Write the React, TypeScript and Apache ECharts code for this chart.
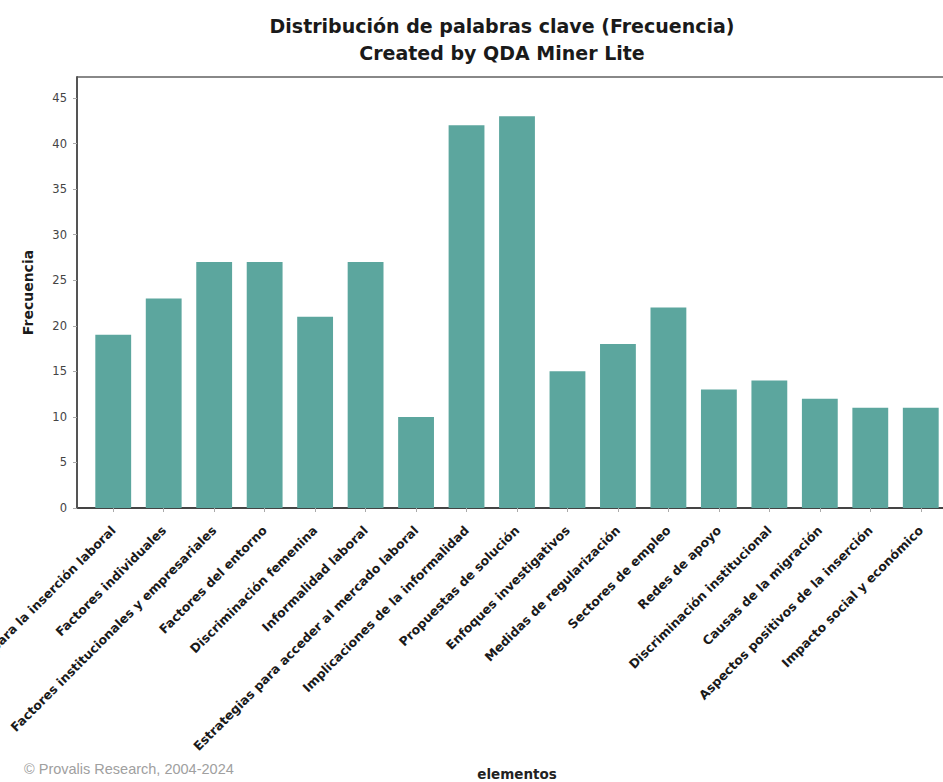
import React, { useEffect, useRef } from "react";
import * as echarts from "echarts";

const categories: string[] = [
  "Barreras para la inserción laboral",
  "Factores individuales",
  "Factores institucionales y empresariales",
  "Factores del entorno",
  "Discriminación femenina",
  "Informalidad laboral",
  "Estrategias para acceder al mercado laboral",
  "Implicaciones de la informalidad",
  "Propuestas de solución",
  "Enfoques investigativos",
  "Medidas de regularización",
  "Sectores de empleo",
  "Redes de apoyo",
  "Discriminación institucional",
  "Causas de la migración",
  "Aspectos positivos de la inserción",
  "Impacto social y económico",
];

const frecuencias: number[] = [19, 23, 27, 27, 21, 27, 10, 42, 43, 15, 18, 22, 13, 14, 12, 11, 11];

const yTicks: number[] = [0, 5, 10, 15, 20, 25, 30, 35, 40, 45];

const titleLines: string[] = [
  "Distribución de palabras clave (Frecuencia)",
  "Created by QDA Miner Lite",
];

const FONT = "DejaVu Sans";

export default function App() {
  const ref = useRef<HTMLDivElement>(null);

  useEffect(() => {
    if (!ref.current) return;
    const chart = echarts.init(ref.current, null, { renderer: "svg" });
    const option: any = {
      animation: false,
      backgroundColor: "#ffffff",
      title: {
        text: titleLines.join("\n"),
        left: 502,
        textAlign: "center",
        top: 12,
        padding: 0,
        textStyle: {
          fontFamily: FONT,
          fontWeight: "bold",
          fontSize: 19,
          lineHeight: 27,
          color: "#1a1a1a",
        },
      },
      grid: {
        left: 88,
        right: -3,
        top: 77,
        bottom: 274,
        containLabel: false,
        outerBoundsMode: "none",
      },
      xAxis: {
        type: "category",
        data: categories,
        name: "elementos",
        nameLocation: "middle",
        nameGap: 259,
        nameTextStyle: { fontFamily: FONT, fontWeight: "bold", fontSize: 13.5, color: "#222" },
        axisLine: { show: true, lineStyle: { color: "#444", width: 2 } },
        axisTick: { show: true, alignWithLabel: true, length: 4, lineStyle: { color: "#aaa" } },
        axisLabel: {
          rotate: 45,
          interval: 0,
          margin: 20,
          fontFamily: FONT,
          fontWeight: "bold",
          fontSize: 12.5,
          color: "#1a1a1a",
        },
      },
      yAxis: {
        type: "value",
        min: 0,
        max: 47.3,
        interval: 5,
        offset: 11,
        name: "Frecuencia",
        nameLocation: "middle",
        nameGap: 42,
        nameRotate: 90,
        nameTextStyle: { fontFamily: FONT, fontWeight: "bold", fontSize: 14, color: "#1a1a1a" },
        axisLine: { show: true, lineStyle: { color: "#555", width: 2 } },
        axisTick: { show: true, length: 4, lineStyle: { color: "#aaa" }, customValues: yTicks },
        axisLabel: {
          margin: 10,
          fontFamily: FONT,
          fontSize: 11.5,
          color: "#444",
          customValues: yTicks,
        },
        splitLine: { show: false },
      },
      series: [
        {
          type: "bar",
          data: frecuencias,
          barCategoryGap: "29%",
          itemStyle: { color: "#5ca69e" },
        },
      ],
      graphic: [
        {
          type: "line",
          shape: { x1: 77, y1: 77, x2: 943, y2: 77 },
          style: { stroke: "#888", lineWidth: 2 },
          silent: true,
        },
        {
          type: "line",
          shape: { x1: 77, y1: 508, x2: 89, y2: 508 },
          style: { stroke: "#444", lineWidth: 2 },
          silent: true,
        },
        {
          type: "text",
          left: 24,
          top: 761,
          style: {
            text: "© Provalis Research, 2004-2024",
            fontFamily: "Liberation Sans",
            fontSize: 14.5,
            fill: "#a0a0a0",
          },
        },
      ],
    };
    chart.setOption(option);
    return () => chart.dispose();
  }, []);

  return (
    <div
      ref={ref}
      style={{ position: "fixed", left: 0, top: 0, width: 943, height: 782 }}
    />
  );
}
